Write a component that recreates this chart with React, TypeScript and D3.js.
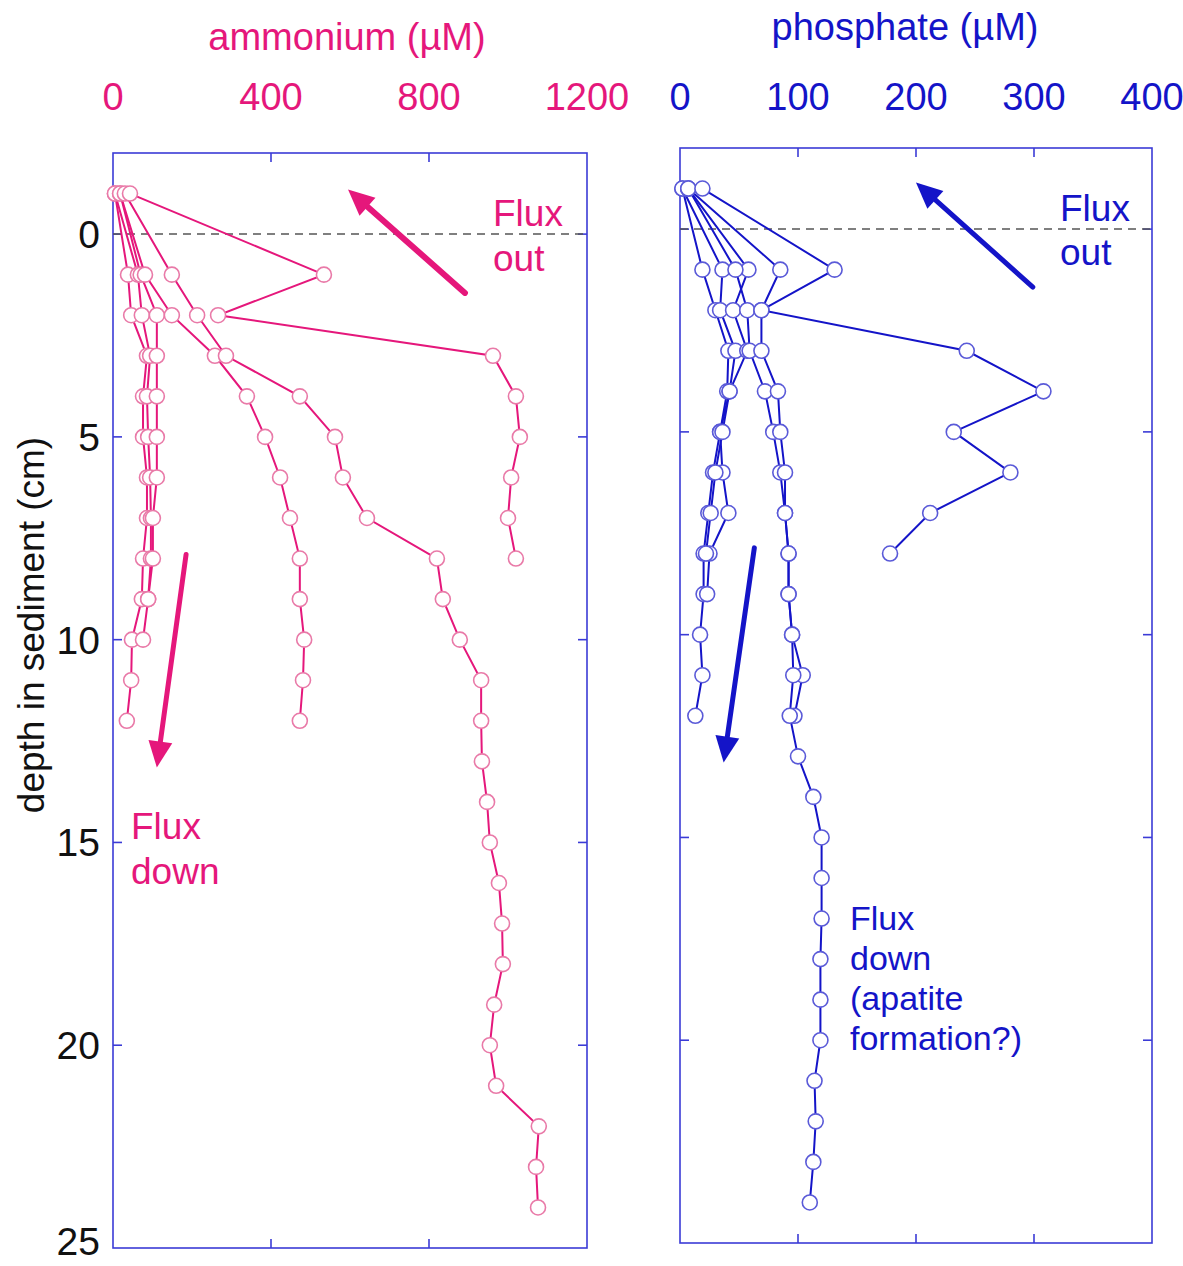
import React from "react";
import * as d3 from "d3";

// ---- data ----
const DEPTHS = [-1, 1, 2, 3, 4, 5, 6, 7, 8, 9, 10, 11, 12, 13, 14, 15, 16, 17, 18, 19, 20, 21, 22, 23, 24];

// ammonium (µM) profiles, values listed from top depth downward
const nhA = [30, 149, 213, 286, 473, 562, 582, 643, 820, 835, 878, 932, 932, 934, 947, 954, 977, 985, 987, 965, 954, 970, 1078, 1071, 1076];
const nhB = [43, 534, 266, 962, 1020, 1030, 1008, 1000, 1020];
const nhC = [18, 81, 149, 258, 339, 385, 423, 448, 473, 473, 484, 481, 473];
const nhD = [5, 38, 46, 86, 76, 76, 86, 86, 76, 73, 48, 46, 35];
const nhE = [5, 63, 73, 94, 86, 89, 94, 96, 96, 89, 76];
const nhF = [18, 70, 111, 111, 111, 111, 111, 101, 101, 89];

// phosphate (µM) profiles
const pL = [7, 85, 69, 69, 83, 85, 89, 89, 92, 92, 95, 96, 93, 100, 113, 120, 120, 120, 119, 119, 119, 114, 115, 113, 110];
const pB = [19, 131, 69, 243, 308, 232, 280, 212, 178];
const pR = [7, 47, 57, 59, 72, 79, 85, 89, 92, 92, 95, 104, 97];
const p1 = [2, 19, 30, 41, 40, 34, 28, 24, 20, 20, 17, 19, 13];
const p2 = [2, 36, 34, 47, 42, 34, 36, 41, 25, 23];
const p3 = [7, 58, 45, 57, 42, 36, 30, 26, 22];

const nhTicks = [0, 400, 800, 1200];
const pTicks = [0, 100, 200, 300, 400];
const depthTicks = [0, 5, 10, 15, 20, 25];

const PINK = "#e5177b";
const PINK_MARK = "#e97aa8";
const BLUE = "#1414c8";
const BLUE_MARK = "#5a5ad8";
const FRAME = "#3b3bd6";
const FONT = "'Liberation Sans', Arial, sans-serif";

const xNH = d3.scaleLinear().domain([0, 1200]).range([113, 587]);
const yL = d3.scaleLinear().domain([-2, 25]).range([153, 1248]);
const xP = d3.scaleLinear().domain([0, 400]).range([680, 1152]);
const yR = d3.scaleLinear().domain([-2, 25]).range([148, 1243]);

type Scale = d3.ScaleLinear<number, number>;

function Profile({ vals, xs, ys, line, mark }: { vals: number[]; xs: Scale; ys: Scale; line: string; mark: string }) {
  const pts = vals.map((v, i) => [xs(v), ys(DEPTHS[i])] as [number, number]);
  const path = d3.line()(pts) || "";
  return (
    <g>
      <path d={path} fill="none" stroke={line} strokeWidth={2} />
      {pts.map((p, i) => (
        <circle key={i} cx={p[0]} cy={p[1]} r={7.5} fill="white" stroke={mark} strokeWidth={1.6} />
      ))}
    </g>
  );
}

function Arrow({ x1, y1, x2, y2, color, w }: { x1: number; y1: number; x2: number; y2: number; color: string; w: number }) {
  const ang = Math.atan2(y2 - y1, x2 - x1);
  const hl = 26, hw = 12;
  const bx = x2 - hl * Math.cos(ang), by = y2 - hl * Math.sin(ang);
  const px = -Math.sin(ang), py = Math.cos(ang);
  const head = `${x2},${y2} ${bx + px * hw},${by + py * hw} ${bx - px * hw},${by - py * hw}`;
  return (
    <g>
      <line x1={x1} y1={y1} x2={bx} y2={by} stroke={color} strokeWidth={w} strokeLinecap="round" />
      <polygon points={head} fill={color} />
    </g>
  );
}

function Frame({ xs, ys, xt, showYLabels }: { xs: Scale; ys: Scale; xt: number[]; showYLabels: boolean }) {
  const [x0, x1] = xs.range();
  const [y0, y1] = ys.range();
  const tl = 9;
  const inner = xt.slice(1, -1);
  const dTicks = depthTicks.slice(0, -1);
  return (
    <g>
      <rect x={x0} y={y0} width={x1 - x0} height={y1 - y0} fill="none" stroke={FRAME} strokeWidth={1.6} />
      {inner.map((t) => (
        <g key={"xt" + t}>
          <line x1={xs(t)} x2={xs(t)} y1={y0} y2={y0 + tl} stroke={FRAME} strokeWidth={1.6} />
          <line x1={xs(t)} x2={xs(t)} y1={y1} y2={y1 - tl} stroke={FRAME} strokeWidth={1.6} />
        </g>
      ))}
      {dTicks.map((t) => (
        <g key={"yt" + t}>
          <line x1={x0} x2={x0 + tl} y1={ys(t)} y2={ys(t)} stroke={FRAME} strokeWidth={1.6} />
          <line x1={x1} x2={x1 - tl} y1={ys(t)} y2={ys(t)} stroke={FRAME} strokeWidth={1.6} />
        </g>
      ))}
      <line x1={x0} x2={x1} y1={ys(0)} y2={ys(0)} stroke="#555" strokeWidth={1.5} strokeDasharray="8,6" />
      {showYLabels &&
        depthTicks.map((t) => (
          <text key={"yl" + t} x={x0 - 13} y={Math.min(ys(t), 1241)} dy="0.36em" textAnchor="end" fontSize={39} fill="#111" fontFamily={FONT}>
            {t}
          </text>
        ))}
    </g>
  );
}

export default function App() {
  return (
    <svg width={1183} height={1266} style={{ position: "absolute", left: 0, top: 0, background: "white" }} fontFamily={FONT}>
      {/* ammonium panel */}
      <text x={347} y={50} textAnchor="middle" fontSize={38} fill={PINK}>ammonium (µM)</text>
      {nhTicks.map((t) => (
        <text key={t} x={xNH(t)} y={110} textAnchor="middle" fontSize={38} fill={PINK}>{t}</text>
      ))}
      <Frame xs={xNH} ys={yL} xt={nhTicks} showYLabels={true} />
      <text transform={`translate(44,${625}) rotate(-90)`} textAnchor="middle" fontSize={37} fill="#111">depth in sediment (cm)</text>
      {[nhD, nhE, nhF, nhC, nhA, nhB].map((v, i) => (
        <Profile key={i} vals={v} xs={xNH} ys={yL} line={PINK} mark={PINK_MARK} />
      ))}
      <Arrow x1={xNH(891)} y1={yL(1.45)} x2={xNH(595)} y2={yL(-1.1)} color={PINK} w={6} />
      <Arrow x1={xNH(185)} y1={yL(7.9)} x2={xNH(111)} y2={yL(13.15)} color={PINK} w={5} />
      <text x={493} y={226} fontSize={37} fill={PINK}>Flux</text>
      <text x={493} y={271} fontSize={37} fill={PINK}>out</text>
      <text x={131} y={839} fontSize={37} fill={PINK}>Flux</text>
      <text x={131} y={884} fontSize={37} fill={PINK}>down</text>

      {/* phosphate panel */}
      <text x={905} y={40} textAnchor="middle" fontSize={38} fill={BLUE}>phosphate (µM)</text>
      {pTicks.map((t) => (
        <text key={t} x={xP(t)} y={110} textAnchor="middle" fontSize={38} fill={BLUE}>{t}</text>
      ))}
      <Frame xs={xP} ys={yR} xt={pTicks} showYLabels={false} />
      {[p1, p2, p3, pR, pL, pB].map((v, i) => (
        <Profile key={i} vals={v} xs={xP} ys={yR} line={BLUE} mark={BLUE_MARK} />
      ))}
      <Arrow x1={xP(299)} y1={yR(1.43)} x2={xP(200)} y2={yR(-1.15)} color={BLUE} w={5} />
      <Arrow x1={xP(63)} y1={yR(7.86)} x2={xP(37)} y2={yR(13.15)} color={BLUE} w={5} />
      <text x={1060} y={221} fontSize={37} fill={BLUE}>Flux</text>
      <text x={1060} y={265} fontSize={37} fill={BLUE}>out</text>
      {["Flux", "down", "(apatite", "formation?)"].map((s, i) => (
        <text key={s} x={850} y={930 + i * 40} fontSize={34} fill={BLUE}>{s}</text>
      ))}
    </svg>
  );
}
